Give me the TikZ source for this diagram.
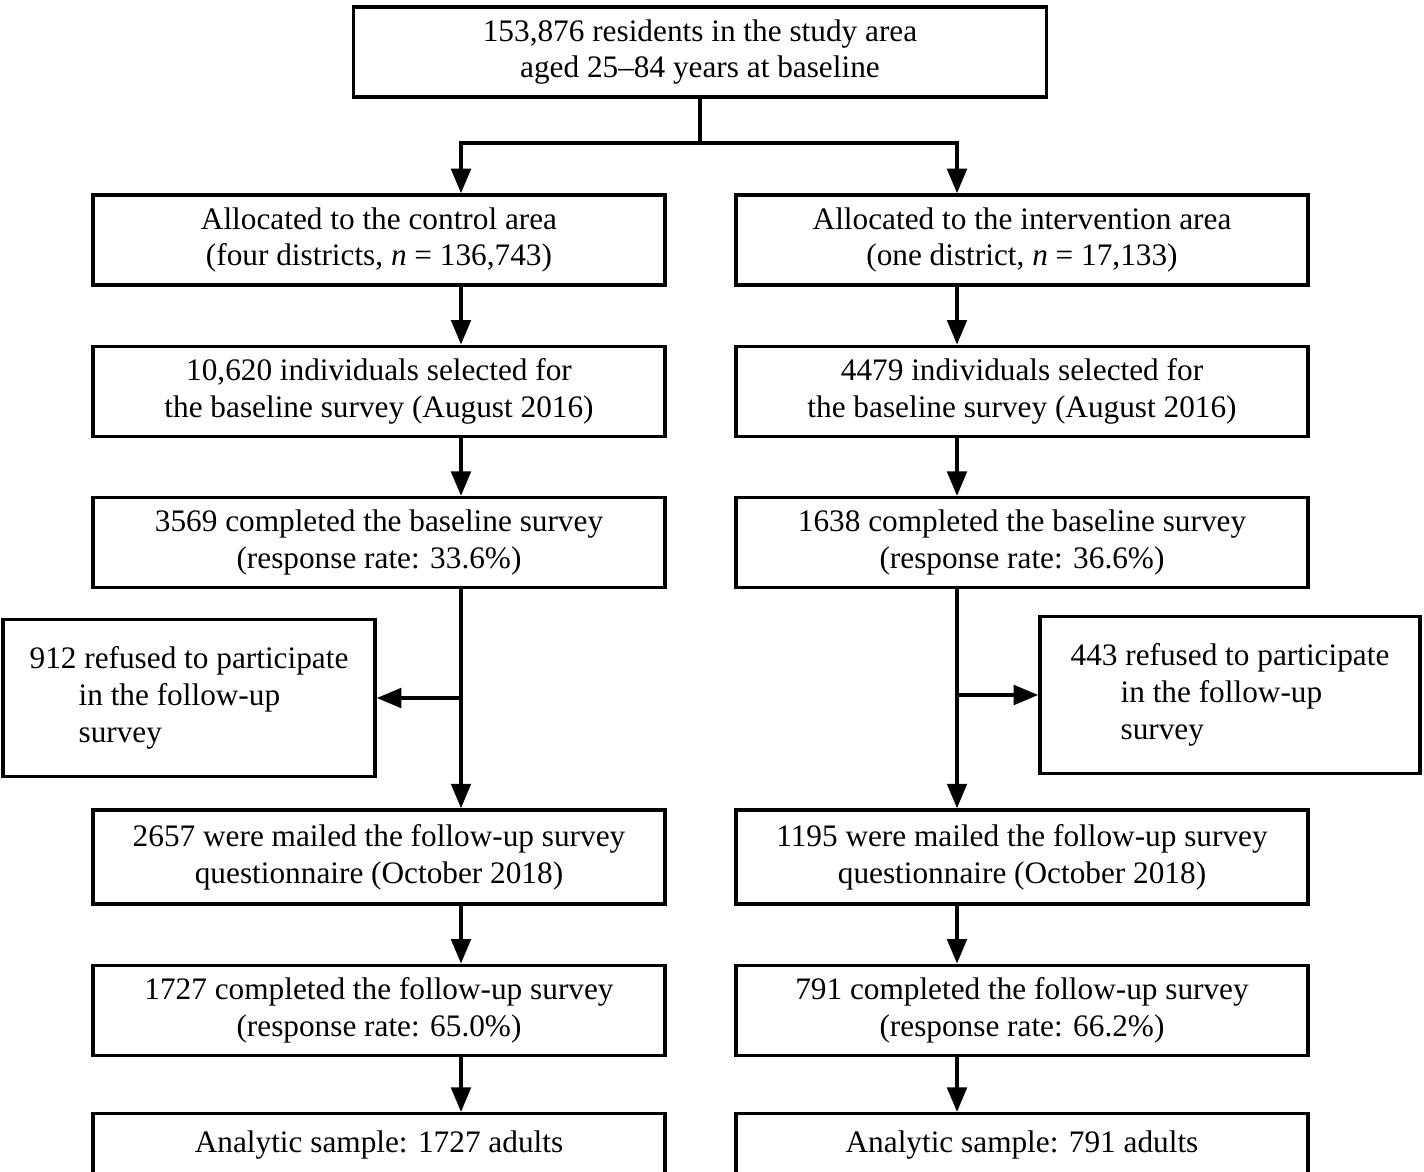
\documentclass[tikz,border=0pt]{standalone}
\usepackage{fontspec}
\setmainfont{Liberation Serif}
\usepackage{tikz}
\usetikzlibrary{positioning, arrows.meta, calc}

\begin{document}
\begin{tikzpicture}[
            node distance=1.16cm,
            >={Triangle[length=14pt, width=11pt]},
            box/.style={rectangle, draw, line width=1.9pt, minimum height=1.8cm,
                    align=center, font=\fontsize{17.8}{21}\selectfont, inner sep=2pt},
            cbox/.style={box, minimum width=11.44cm},
            sidebox/.style={box, align=left, minimum height=3.14cm},
            arrow/.style={->, line width=2.3pt},
            ]

            \useasboundingbox (0,0) rectangle (28.48,-23.44);

            \node[box, minimum width=13.86cm] (top) at (14,-1.04) {153,876 residents in the study area\\aged 25--84 years at baseline};

            % control area
            \node[cbox] (ctrl1) at (7.58,-4.8) {Allocated to the control area\\(four districts, \textit{n} = 136,743)};
            \node[cbox, below=of ctrl1] (ctrl2) {10,620 individuals selected for\\the baseline survey (August 2016)};
            \node[cbox, below=of ctrl2] (ctrl3) {3569 completed the baseline survey\\(response rate: 33.6\%)};
            \node[cbox, minimum height=1.88cm, below=4.38cm of ctrl3] (ctrl4) {2657 were mailed the follow-up survey\\questionnaire (October 2018)};
            \node[cbox, below=of ctrl4] (ctrl5) {1727 completed the follow-up survey\\(response rate: 65.0\%)};
            \node[cbox, minimum height=1.24cm, below=1.1cm of ctrl5] (ctrl6) {Analytic sample: 1727 adults};
            \node[sidebox, minimum width=7.44cm] (ctrlref) at (3.78,-13.96) {912 refused to participate\\\hspace{0.98cm}in the follow-up\\\hspace{0.98cm}survey};

            % intervention area
            \node[cbox] (int1) at (20.44,-4.8) {Allocated to the intervention area\\(one district, \textit{n} = 17,133)};
            \node[cbox, below=of int1] (int2) {4479 individuals selected for\\the baseline survey (August 2016)};
            \node[cbox, below=of int2] (int3) {1638 completed the baseline survey\\(response rate: 36.6\%)};
            \node[cbox, minimum height=1.88cm, below=4.38cm of int3] (int4) {1195 were mailed the follow-up survey\\questionnaire (October 2018)};
            \node[cbox, below=of int4] (int5) {791 completed the follow-up survey\\(response rate: 66.2\%)};
            \node[cbox, minimum height=1.24cm, below=1.1cm of int5] (int6) {Analytic sample: 791 adults};
            \node[sidebox, minimum width=7.6cm] (intref) at (24.6,-13.9) {443 refused to participate\\\hspace{1cm}in the follow-up\\\hspace{1cm}survey};

            \coordinate (split) at (14,-2.86);
            \coordinate (lx) at (9.22,0);
            \coordinate (rx) at (19.14,0);

            \draw[arrow] (top.south) |- (lx |- split) -- (lx |- ctrl1.north);
            \draw[arrow] (top.south) |- (rx |- split) -- (rx |- int1.north);

            \foreach \a/\b in {1/2, 2/3, 3/4, 4/5, 5/6} {
                \draw[arrow] (lx |- ctrl\a.south) -- (lx |- ctrl\b.north);
                \draw[arrow] (rx |- int\a.south) -- (rx |- int\b.north);
            }

            \draw[arrow] (lx |- ctrlref.east) -- (ctrlref.east);
            \draw[arrow] (rx |- intref.west) -- (intref.west);

        \end{tikzpicture}
\end{document}
